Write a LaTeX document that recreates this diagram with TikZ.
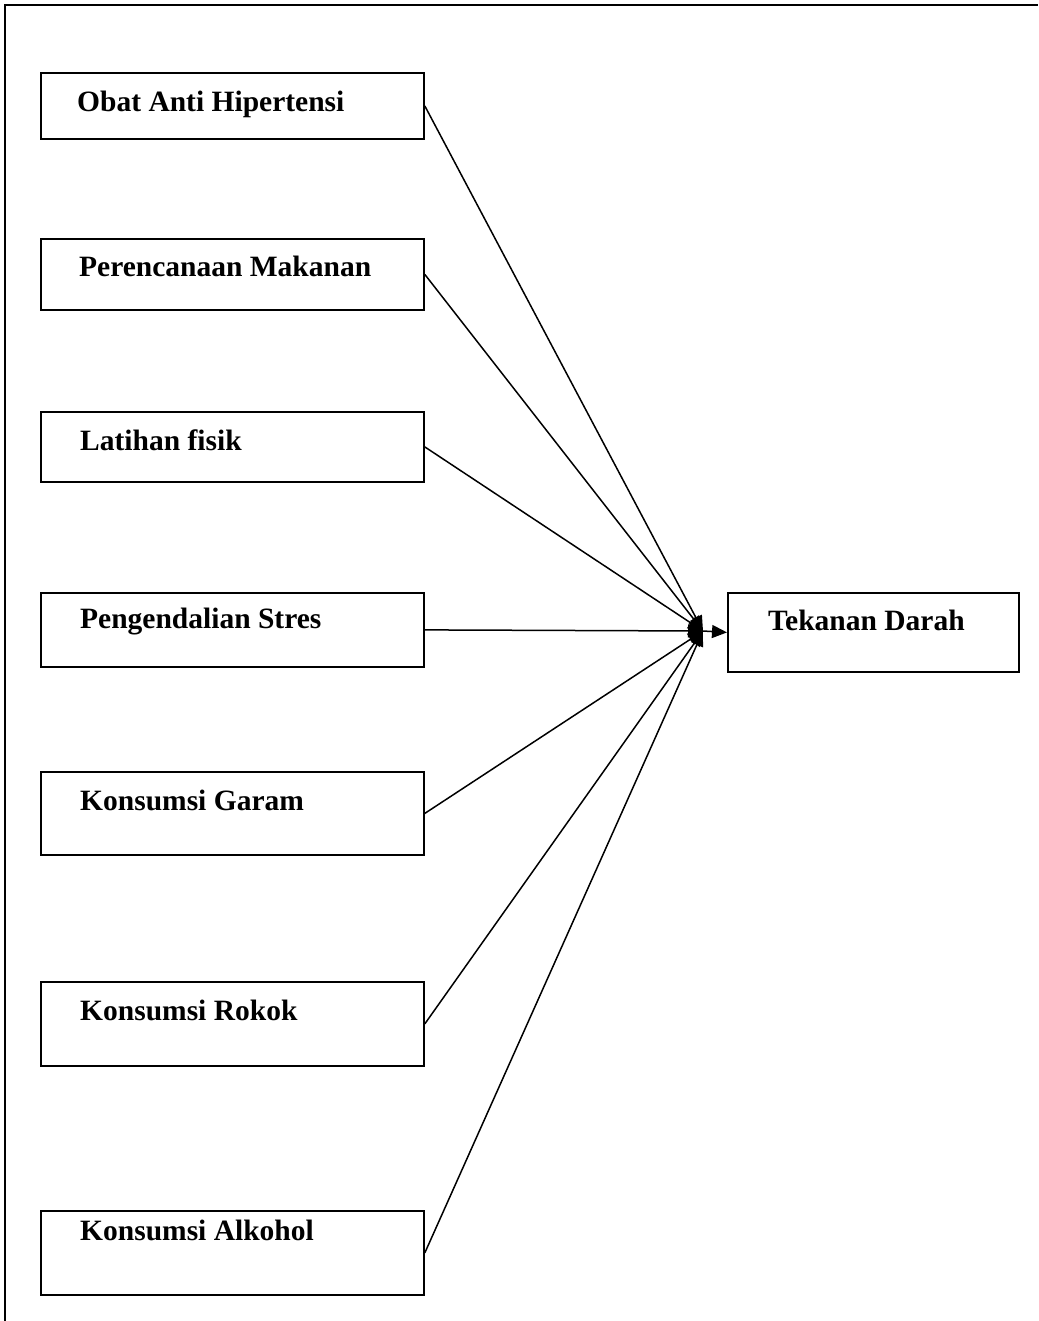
\documentclass[tikz,border=0pt]{standalone}
\usepackage{fontspec}
\setmainfont{Liberation Serif}
\usetikzlibrary{arrows.meta}
\tikzset{
  box/.style={draw, line width=1.8pt, rectangle, anchor=north west, inner sep=0pt},
  lbl/.style={anchor=base west, inner sep=0pt, font=\fontsize{29.5}{35}\selectfont\bfseries},
  arr/.style={line width=1.5pt, -{Triangle[length=15pt,width=13pt]}},
}
\begin{document}
\begin{tikzpicture}[x=1pt,y=-1pt]
\useasboundingbox (0,0) rectangle (1038,1321);
% outer frame (only top and left visible)
\draw[line width=1.8pt] (5,1321) -- (5,5) -- (1038,5);
% left boxes
\node[box, minimum width=383pt, minimum height=66pt] (b1) at (40,72) {};
\node[box, minimum width=383pt, minimum height=71pt] (b2) at (40,238) {};
\node[box, minimum width=383pt, minimum height=70pt] (b3) at (40,411) {};
\node[box, minimum width=383pt, minimum height=74pt] (b4) at (40,592) {};
\node[box, minimum width=383pt, minimum height=83pt] (b5) at (40,771) {};
\node[box, minimum width=383pt, minimum height=84pt] (b6) at (40,981) {};
\node[box, minimum width=383pt, minimum height=84pt] (b7) at (40,1210) {};
% right box
\node[box, minimum width=291pt, minimum height=79pt] (td) at (727,592) {};
% labels
\node[lbl] (t1) at (77,112) {Obat Anti Hipertensi};
\node[lbl] (t2) at (79,277) {Perencanaan Makanan};
\node[lbl] (t3) at (80,450) {Latihan fisik};
\node[lbl] (t4) at (80,628) {Pengendalian Stres};
\node[lbl] (t5) at (80,810) {Konsumsi Garam};
\node[lbl] (t6) at (80,1020) {Konsumsi Rokok};
\node[lbl] (t7) at (80,1240) {Konsumsi Alkohol};
\node[lbl] (t8) at (768,630) {Tekanan Darah};
% connectors
\coordinate (m) at (703,631);
\foreach \b in {b1,b2,b3,b4,b5,b6,b7}{
  \draw[arr] (\b.east) -- (m);
}
\draw[arr] (m) -- (td.west);
\end{tikzpicture}
\end{document}
